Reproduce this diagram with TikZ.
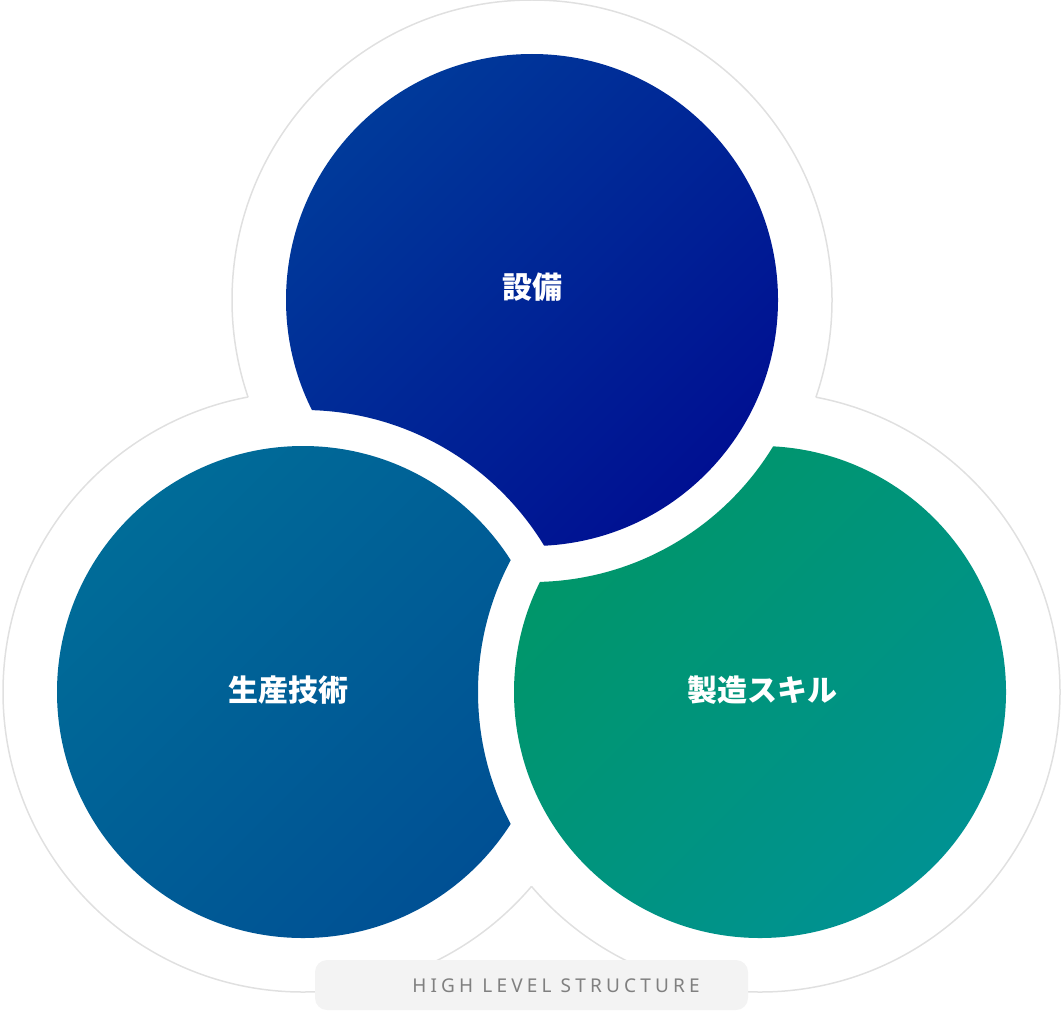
\documentclass[tikz,border=0pt]{standalone}
\usepackage{fontspec}
\newfontfamily\cjk{Noto Sans CJK JP}
\newfontfamily\lab[LetterSpace=22]{Noto Sans}
\definecolor{outl}{HTML}{E0E0E0}
\begin{document}
\begin{tikzpicture}[x=1pt,y=-1pt,
  ttl/.style={text=white,font=\cjk\bfseries\fontsize{30}{36}\selectfont}]
\useasboundingbox (0,0) rectangle (1064,1014);
\coordinate (T) at (532,300);
\coordinate (L) at (303,692);
\coordinate (R) at (760,692);
% outer outline: union of three circles
\begin{scope}[even odd rule]
 \clip (-10,-10) rectangle (1080,1030) (L) circle (300);
 \begin{scope}[even odd rule]
 \clip (-10,-10) rectangle (1080,1030) (R) circle (300);
 \draw[outl,line width=1.5] (T) circle (300);
 \end{scope}
\end{scope}
\begin{scope}[even odd rule]
 \clip (-10,-10) rectangle (1080,1030) (T) circle (300);
 \begin{scope}[even odd rule]
 \clip (-10,-10) rectangle (1080,1030) (R) circle (300);
 \draw[outl,line width=1.5] (L) circle (300);
 \end{scope}
\end{scope}
\begin{scope}[even odd rule]
 \clip (-10,-10) rectangle (1080,1030) (T) circle (300);
 \begin{scope}[even odd rule]
 \clip (-10,-10) rectangle (1080,1030) (L) circle (300);
 \draw[outl,line width=1.5] (R) circle (300);
 \end{scope}
\end{scope}
% colored circles
\begin{scope}[even odd rule]
 \clip (-10,-10) rectangle (1080,1030) (L) circle (282);
 \shade[shading=axis, top color={rgb,255:red,0;green,58;blue,154}, bottom color={rgb,255:red,0;green,16;blue,146}, shading angle=45] (T) circle (246);
\end{scope}
\begin{scope}[even odd rule]
 \clip (-10,-10) rectangle (1080,1030) (R) circle (282);
 \shade[shading=axis, top color={rgb,255:red,0;green,108;blue,152}, bottom color={rgb,255:red,0;green,80;blue,148}, shading angle=45] (L) circle (246);
\end{scope}
\begin{scope}[even odd rule]
 \clip (-10,-10) rectangle (1080,1030) (T) circle (282);
 \shade[shading=axis, top color={rgb,255:red,0;green,150;blue,104}, bottom color={rgb,255:red,0;green,146;blue,146}, shading angle=45] (R) circle (246);
\end{scope}
\node[ttl] (tt) at (532,287) {設備};
\node[ttl] (lt) at (288,690) {生産技術};
\node[ttl] (rt) at (762,690) {製造スキル};
\fill[rounded corners=12,fill={rgb,255:red,243;green,243;blue,243}] (315,960) rectangle (748,1010);
\node[text={rgb,255:red,128;green,128;blue,128},font=\lab\fontsize{19}{22}\selectfont] (hl) at (556,986) {HIGH LEVEL STRUCTURE};
\end{tikzpicture}
\end{document}
